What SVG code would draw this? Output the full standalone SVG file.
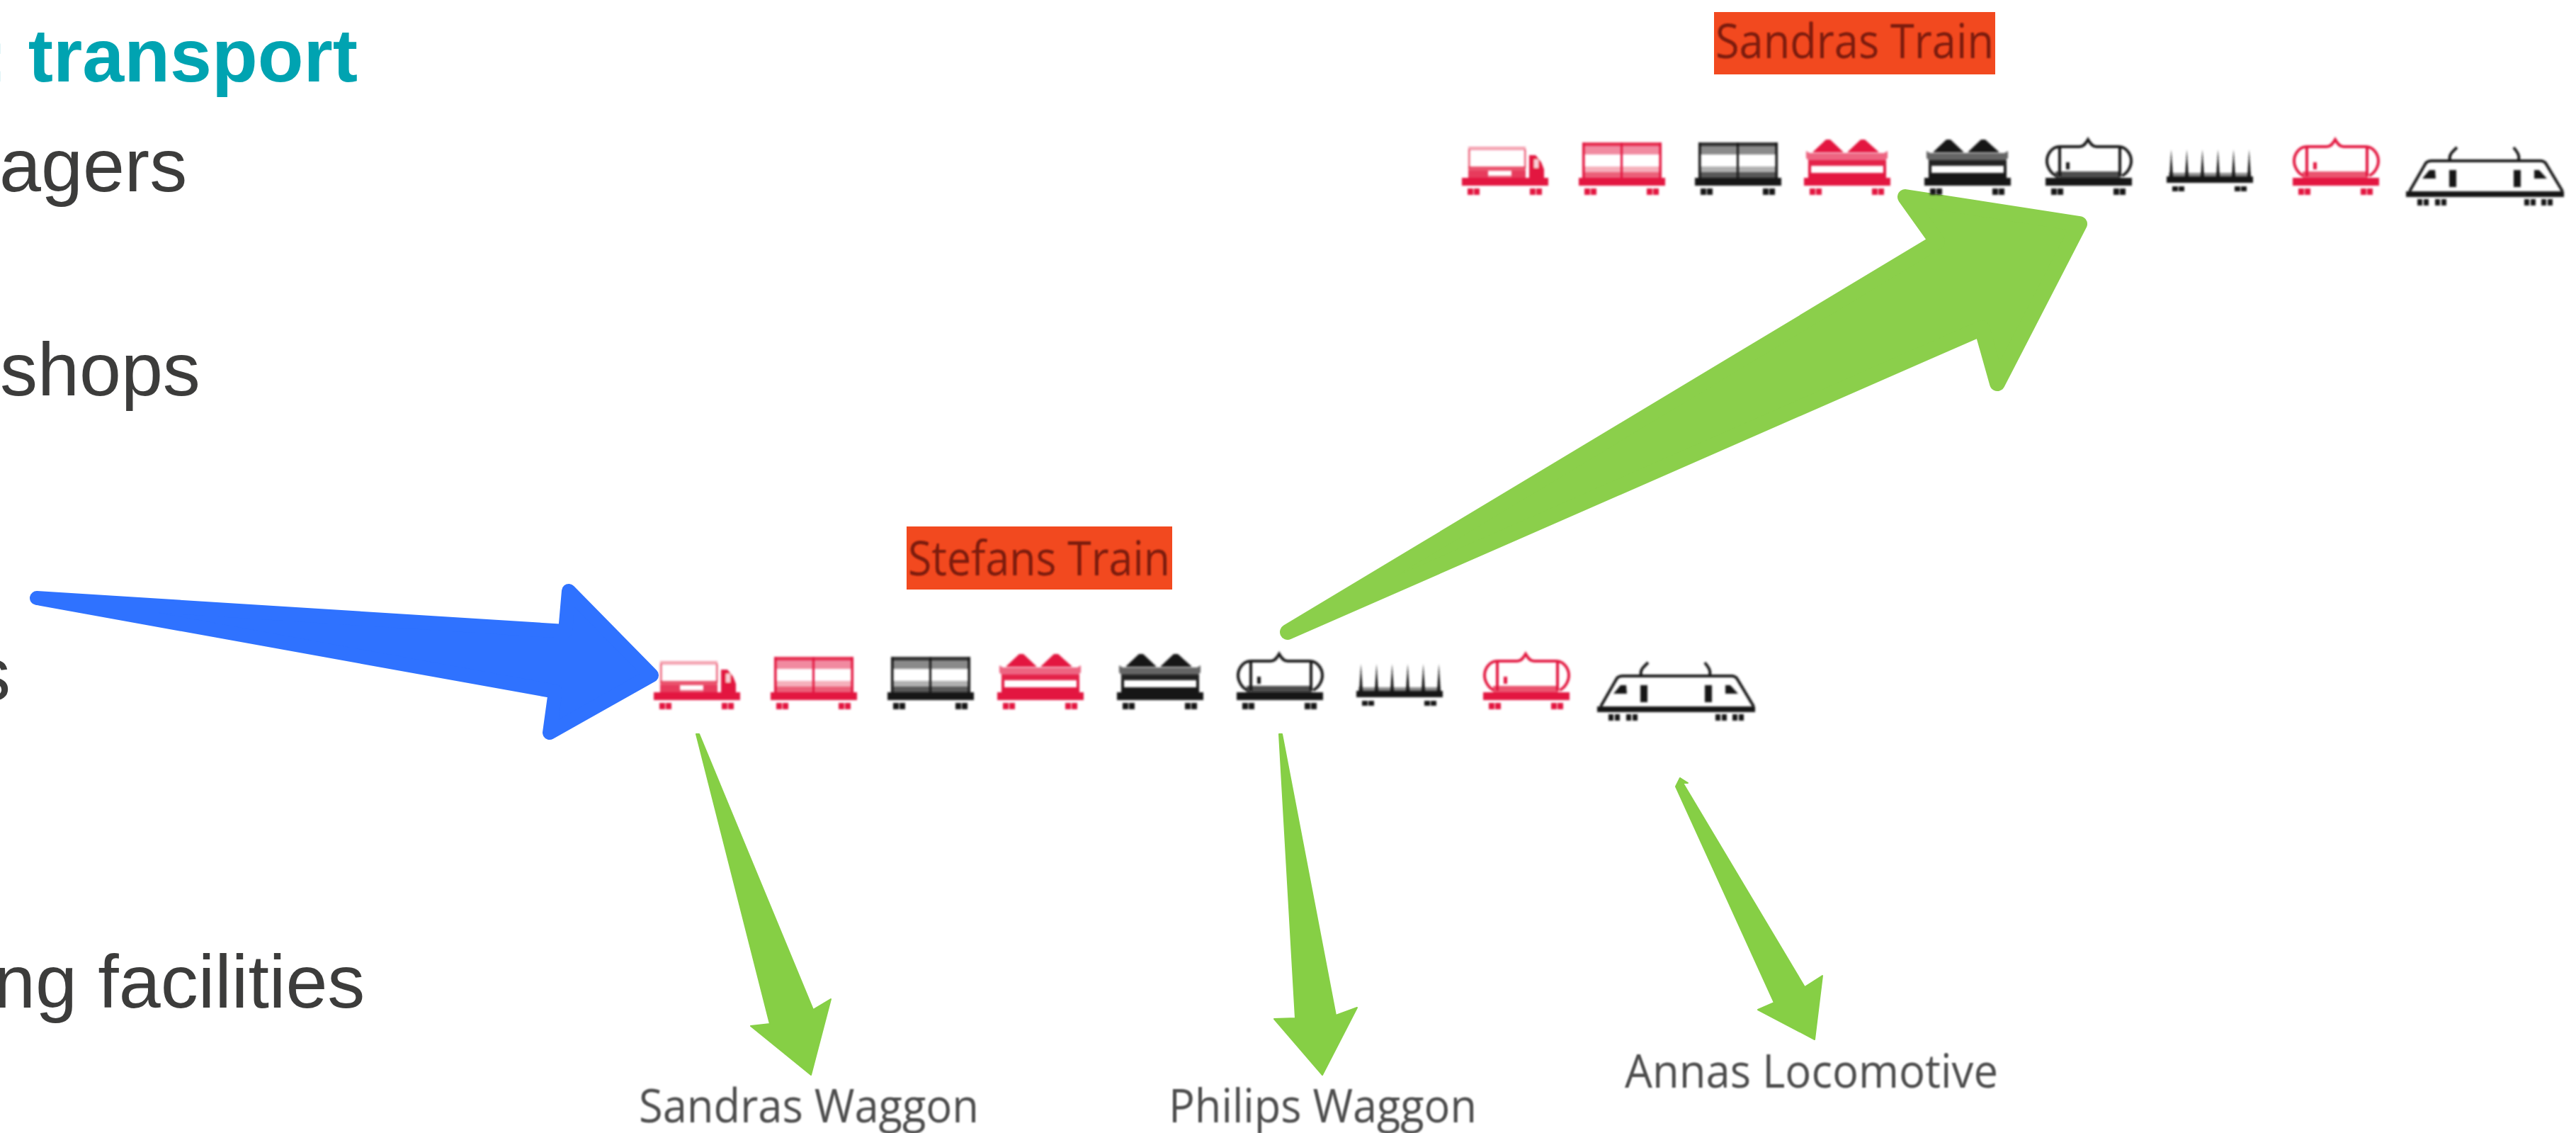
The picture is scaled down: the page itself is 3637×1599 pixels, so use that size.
<svg xmlns="http://www.w3.org/2000/svg" width="3637" height="1599" viewBox="0 0 3637 1599">
<style>
.h{font-family:"Liberation Sans",Arial,sans-serif;font-size:106px;fill:#3c3c3b}
.t{font-family:"Liberation Sans",Arial,sans-serif;font-size:106px;font-weight:700;fill:#00a3b1}
.l{font-family:"Open Sans",sans-serif;font-size:66px;fill:#4d4d4d;filter:url(#b1)}
.r{font-family:"Open Sans",sans-serif;font-size:68px;fill:#7d1b0c;filter:url(#b1)}
.tag{fill:#f2491f}
.red{color:#e3173f}
.blk{color:#141414}
.a{stroke-linejoin:round;stroke-linecap:round}
.ab{fill:#2f72ff;stroke:#2f72ff;stroke-width:20}
.ag{fill:#8bcf4b;stroke:#8bcf4b;stroke-width:22}
.as{fill:#86cf45;stroke:#86cf45;stroke-width:2}
.ic{fill:currentColor;stroke:none}
.ln{fill:none;stroke:currentColor;stroke-width:4}
</style>
<defs>
<filter id="b1" x="-5%" y="-20%" width="110%" height="140%"><feGaussianBlur stdDeviation="0.9"/></filter>
<filter id="b2" x="-5%" y="-20%" width="110%" height="140%"><feGaussianBlur stdDeviation="1.4"/></filter>
<g id="base" class="ic">
<rect x="0" y="0" width="122" height="11"/>
<rect x="8" y="15" width="8" height="9"/><rect x="17" y="15" width="8" height="9"/>
<rect x="96" y="15" width="8" height="9"/><rect x="105" y="15" width="8" height="9"/>
</g>
<g id="truck">
<use href="#base"/>
<g class="ic">
<rect x="9" y="-44" width="81" height="5" opacity=".4"/>
<rect x="9" y="-40" width="2.500" height="26" opacity=".7"/>
<rect x="88" y="-40" width="2.500" height="26" opacity=".7"/>
<rect x="9" y="-16" width="81" height="6" opacity=".75"/>
<rect x="9" y="-10" width="28" height="10" opacity=".85"/>
<rect x="70" y="-10" width="20" height="10" opacity=".85"/>
<rect x="37" y="-3" width="33" height="3" opacity=".7"/>
<path d="M95 -32h9l8 10 4 10v12h-21z"/>
</g>
<rect x="102" y="-26" width="6" height="12" fill="#fff" opacity=".8"/>
</g>
<g id="box">
<use href="#base"/>
<g class="ic">
<rect x="5" y="-50" width="112" height="5" opacity=".9"/>
<rect x="5" y="-45" width="112" height="12" opacity=".5"/>
<rect x="5" y="-16" width="112" height="8" opacity=".35"/>
<rect x="5" y="-8" width="112" height="8" opacity=".7"/>
<rect x="5" y="-50" width="3.500" height="50"/>
<rect x="113.500" y="-50" width="3.500" height="50"/>
<rect x="59" y="-50" width="3" height="50"/>
</g>
</g>
<g id="coal">
<use href="#base"/>
<g class="ic">
<path d="M12 -36L31 -54h6L56 -36zM61 -36L80 -54h6L106 -36z"/>
<path d="M3 -38l5 3H113l5 -3v10l-3 3H6l-3 -3z" opacity=".65"/>
<rect x="6" y="-25" width="110" height="8" opacity=".95"/>
<rect x="6" y="-7" width="110" height="7"/>
<rect x="6" y="-17" width="4" height="10"/><rect x="112" y="-17" width="4" height="10"/>
</g>
</g>
<g id="tank">
<use href="#base"/>
<rect class="ic" x="14" y="-9" width="92" height="9" opacity=".75"/>
<path class="ln" d="M20 -44H48C53 -44 56 -47 60 -54C64 -47 67 -44 72 -44H103C115 -44 121 -32 121 -24C121 -15 115 -6 108 -3M20 -44C8 -44 2 -32 2 -24C2 -15 8 -6 15 -3"/>
<path class="ln" d="M20 -44V-2M105 -44V-2"/>
<rect class="ic" x="29" y="-22" width="5" height="10"/>
</g>
<g id="logs" class="ic">
<rect x="0" y="0" width="122" height="9"/>
<rect x="8" y="14" width="8" height="7"/><rect x="17" y="14" width="8" height="7"/><rect x="96" y="14" width="8" height="7"/><rect x="105" y="14" width="8" height="7"/>
<path d="M4 0L6.500 -38L9 0zM26 0L28.500 -38L31 0zM48 0L50.500 -38L53 0zM70 0L72.500 -38L75 0zM92 0L94.500 -38L97 0zM114 0L116.500 -38L119 0z"/>
<rect x="3" y="-5" width="116" height="5" opacity=".5"/>
</g>
<g id="loco">
<g class="ic">
<rect x="0" y="0" width="223" height="8"/>
<rect x="16" y="11" width="7" height="9"/><rect x="25" y="11" width="7" height="9"/>
<rect x="41" y="11" width="7" height="9"/><rect x="50" y="11" width="7" height="9"/>
<rect x="167" y="11" width="7" height="9"/><rect x="176" y="11" width="7" height="9"/>
<rect x="191" y="11" width="7" height="9"/><rect x="200" y="11" width="7" height="9"/>
<rect x="61" y="-30" width="10" height="24"/>
<rect x="152" y="-30" width="10" height="24"/>
<path d="M23 -18L33 -30h8L42 -18zM181 -18L181 -30h7L199 -18z"/>
</g>
<path class="ln" stroke-linejoin="round" d="M5 0L28 -40Q31 -43 36 -43H190Q194 -43 197 -40L221 0"/>
<path class="ln" d="M62 -44C60 -52 66 -56 72 -62M159 -44C161 -52 156 -56 152 -62"/>
</g>
</defs>
<rect width="3637" height="1599" fill="#fff"/>
<g id="text-list">
<text class="t" x="-25" y="115">: transport</text>
<text class="h" x="-1" y="270">agers</text>
<text class="h" x="0" y="558">shops</text>
<text class="h" x="-38" y="988">s</text>
<text class="h" x="-9" y="1422">ng facilities</text>
</g>
<g id="connectors" class="a">
<path id="arrow-blue" class="ab" d="M52 844L798 891L803 834L920 953L776 1034L784 976Z"/>
<path id="arrow-sandra-train" class="ag" d="M1818 892L2735 341L2690 278L2936 316L2820 541L2798 463Z"/>
<path id="arrow-sandra-waggon" class="as" d="M983 1036H987L1148 1425L1173 1410L1145 1517L1060 1448L1087 1445Z"/>
<path id="arrow-philip-waggon" class="as" d="M1806 1036H1810L1886 1433L1916 1422L1867 1517L1799 1438L1829 1437Z"/>
<path id="arrow-anna-loco" class="as" d="M2366 1110L2372 1098L2383 1105L2376 1105L2548 1393L2573 1377L2562 1467L2482 1425L2505 1415Z"/>
</g>
<g id="stefans-label">
<rect class="tag" x="1280" y="743" width="375" height="89"/>
<text class="r" x="1282" y="812" textLength="370" lengthAdjust="spacingAndGlyphs">Stefans Train</text>
</g>
<g id="sandras-label">
<rect class="tag" x="2420" y="17" width="397" height="88"/>
<text class="r" x="2422" y="82" textLength="393" lengthAdjust="spacingAndGlyphs">Sandras Train</text>
</g>
<g id="stefans-train" filter="url(#b2)">
<use href="#truck" class="red" x="923" y="977"/>
<use href="#box" class="red" x="1088" y="977"/>
<use href="#box" class="blk" x="1253" y="977"/>
<use href="#coal" class="red" x="1408" y="977"/>
<use href="#coal" class="blk" x="1577" y="977"/>
<use href="#tank" class="blk" x="1746" y="977"/>
<use href="#logs" class="blk" x="1915" y="975"/>
<use href="#tank" class="red" x="2094" y="977"/>
<use href="#loco" class="blk" x="2255" y="997"/>
</g>
<g id="sandras-train" filter="url(#b2)">
<use href="#truck" class="red" x="2064" y="251"/>
<use href="#box" class="red" x="2229" y="251"/>
<use href="#box" class="blk" x="2393" y="251"/>
<use href="#coal" class="red" x="2547" y="251"/>
<use href="#coal" class="blk" x="2717" y="251"/>
<use href="#tank" class="blk" x="2888" y="251"/>
<use href="#logs" class="blk" x="3059" y="249"/>
<use href="#tank" class="red" x="3237" y="251"/>
<use href="#loco" class="blk" x="3397" y="270"/>
</g>
<g id="sandras-waggon"><text class="l" x="902" y="1584" textLength="480" lengthAdjust="spacingAndGlyphs">Sandras Waggon</text></g>
<g id="philips-waggon"><text class="l" x="1650" y="1584" textLength="435" lengthAdjust="spacingAndGlyphs">Philips Waggon</text></g>
<g id="annas-locomotive"><text class="l" x="2294" y="1535" textLength="527" lengthAdjust="spacingAndGlyphs">Annas Locomotive</text></g>
</svg>
